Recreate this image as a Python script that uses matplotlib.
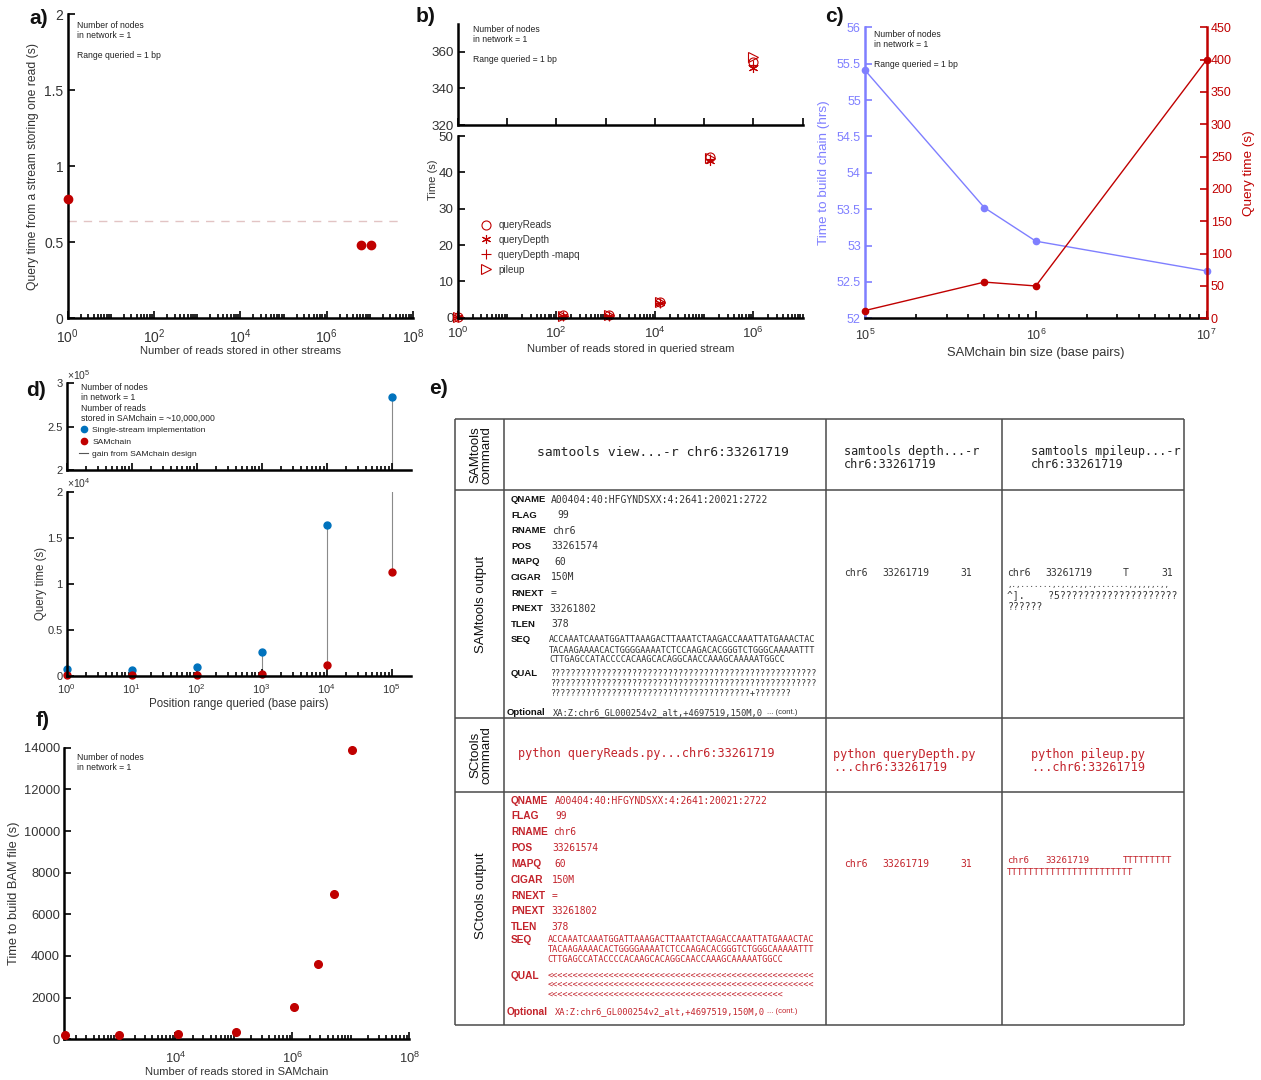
# figure multi-panneaux : requêtes SAMchain / SCtools
import numpy as np
import matplotlib
matplotlib.use('Agg')
import matplotlib.pyplot as plt
from matplotlib.ticker import FixedLocator, NullLocator, FuncFormatter, LogLocator, NullFormatter
from matplotlib.lines import Line2D

plt.rcParams['font.family'] = ['Liberation Sans', 'DejaVu Sans']
plt.rcParams['mathtext.default'] = 'regular'

# ---- données ----
# a) lecture unique, autres streams
a_reads = [1, 6.2e6, 1.05e7]
a_time = [0.78, 0.48, 0.48]
a_ref = 0.64

# b) temps selon le nb de lectures du stream interrogé
b_reads = [1, 140, 1200, 13000, 130000, 1e6]
b_queryReads = [0.3, 0.7, 0.8, 4.3, 44.2, 354.5]
b_queryDepth = [0.2, 0.5, 0.6, 4.1, 43.2, 351.0]
b_queryDepth_mapq = [0.2, 0.5, 0.6, 4.0, 43.6, 352.5]
b_pileup = [0.3, 0.6, 0.7, 4.4, 44.0, 357.0]
b_names = ['queryReads', 'queryDepth', 'queryDepth -mapq', 'pileup']

# c) taille des bins
c_bin = [1e5, 5e5, 1e6, 1e7]
c_build = [55.41, 53.52, 53.06, 52.65]
c_query = [12, 56, 50, 400]

# d) plage de positions
d_range = [1, 10, 100, 1e3, 1e4, 1e5]
d_single = [700, 600, 1000, 2600, 16400, 284000]
d_samchain = [30, 30, 40, 150, 1150, 11300]

# f) construction du fichier BAM
f_reads = [128, 1.1e3, 1.1e4, 1.1e5, 1.05e6, 2.7e6, 5.2e6, 1.05e7]
f_time = [200, 200, 240, 340, 1540, 3610, 6970, 13890]

# e) tableau
row_heads = ['SAMtools\ncommand', 'SAMtools output', 'SCtools\ncommand', 'SCtools output']
sam_cmds = ['samtools view...-r chr6:33261719', 'samtools depth...-r\nchr6:33261719',
            'samtools mpileup...-r\nchr6:33261719']
sc_cmds = ['python queryReads.py...chr6:33261719', 'python queryDepth.py\n...chr6:33261719',
           'python pileup.py\n...chr6:33261719']
fields = ['QNAME', 'FLAG', 'RNAME', 'POS', 'MAPQ', 'CIGAR', 'RNEXT', 'PNEXT', 'TLEN']
values = ['A00404:40:HFGYNDSXX:4:2641:20021:2722', '99', 'chr6', '33261574', '60',
          '150M', '=', '33261802', '378']
seq = ['ACCAAATCAAATGGATTAAAGACTTAAATCTAAGACCAAATTATGAAACTAC',
       'TACAAGAAAACACTGGGGAAAATCTCCAAGACACGGGTCTGGGCAAAAATTT',
       'CTTGAGCCATACCCCACAAGCACAGGCAACCAAAGCAAAAATGGCC']
sam_qual = ['?' * 52, '?' * 52, '?' * 39 + '+' + '?' * 7]
sc_qual = ['<' * 52, '<' * 52, '<' * 46]
optional = 'XA:Z:chr6_GL000254v2_alt,+4697519,150M,0'
depth_out = ['chr6', '33261719', '31']
mpileup_out = ['chr6', '33261719', 'T', '31']
mpileup_more = [',.,.......,.,.,.,,.,.......,,,,,,.,,', '^].    ?5' + '?' * 20, '??????']
pileup_sc = ['chr6', '33261719', 'T' * 9, 'T' * 23]

RED = '#c00000'
BLUE = '#0072bd'
LILAC = '#7f7fff'
GRAY = '#333333'
TRED = '#c3232b'
MONO = 'DejaVu Sans Mono'

W, H = 1261, 1080
fig = plt.figure(figsize=(W / 100, H / 100), dpi=100)


def box(l, t, r, b):
    return [l / W, 1 - b / H, (r - l) / W, (b - t) / H]


# calque en pixels (tableau, lettres, notes)
lay = fig.add_axes([0, 0, 1, 1])
lay.set_xlim(0, W)
lay.set_ylim(H, 0)
lay.axis('off')

fmt_g = FuncFormatter(lambda v, p: '%g' % v)


def style(ax, size=10, xpad=6):
    ax.spines['top'].set_visible(False)
    ax.spines['right'].set_visible(False)
    for s in ax.spines.values():
        s.set_linewidth(1.8)
    ax.tick_params(which='both', direction='in', width=1.2, labelsize=size,
                   labelcolor=GRAY, pad=3)
    ax.tick_params(axis='x', which='both', pad=xpad)
    ax.tick_params(which='major', length=5)
    ax.tick_params(which='minor', length=3)
    ax.patch.set_alpha(0)


def logx(ax, major, lo, hi, subs=np.arange(1, 10)):
    ax.set_xscale('log')
    ax.set_xlim(lo, hi)
    ax.xaxis.set_major_locator(FixedLocator(major))
    ax.xaxis.set_minor_locator(LogLocator(base=10, subs=subs, numticks=100))
    ax.xaxis.set_minor_formatter(NullFormatter())


note = dict(fontsize=6.2, color='#222222', va='top', linespacing=1.15)

# ---------- a) ----------
ax = fig.add_axes(box(67.7, 14, 413, 318))
style(ax, 10, 7)
logx(ax, [1, 1e2, 1e4, 1e6, 1e8], 1, 1e8)
ax.set_ylim(0, 2)
ax.set_yticks([0, 0.5, 1, 1.5, 2])
ax.yaxis.set_major_formatter(fmt_g)
ax.axhline(a_ref, xmax=0.975, color='#e2c4c4', lw=1, dashes=(6, 5))
ax.plot(a_reads, a_time, 'o', color=RED, ms=6, clip_on=False, zorder=3)
ax.set_xlabel('Number of reads stored in other streams', fontsize=8, color=GRAY, labelpad=0)
ax.set_ylabel('Query time from a stream storing one read (s)', fontsize=8.7, color=GRAY, labelpad=4)
lay.text(77.3, 20.5, 'Number of nodes\nin network = 1\n\nRange queried = 1 bp', **note)

# ---------- b) ----------
bt = fig.add_axes(box(457.7, 24, 802.7, 125.3))
bb = fig.add_axes(box(457.7, 136, 802.7, 317.7))
style(bt, 9.6)
style(bb, 9.6, 6)
logx(bt, [10.0 ** k for k in range(8)], 1, 1e7)
bt.xaxis.set_minor_locator(NullLocator())
bt.tick_params(axis='x', labelbottom=False)
logx(bb, [1, 1e2, 1e4, 1e6], 1, 1e7)
bt.set_ylim(320, 375)
bt.set_yticks([320, 340, 360])
bb.set_ylim(0, 50)
bb.set_yticks([0, 10, 20, 30, 40, 50])
for a_ in (bt, bb):
    a_.yaxis.set_major_formatter(fmt_g)
markers = ['o', (6, 2, 0), '+', '>']
series = [b_queryReads, b_queryDepth, b_queryDepth_mapq, b_pileup]
for m, ys, n in zip(markers, series, b_names):
    bt.plot(b_reads, ys, ls='none', marker=m, mfc='none', mec=RED, ms=6.5, mew=0.8)
    bb.plot(b_reads, ys, ls='none', marker=m, mfc='none', mec=RED, ms=6.5, mew=0.8,
            label=n, clip_on=False)
bb.legend(loc='upper left', bbox_to_anchor=(481 / W, 1 - 220 / H), bbox_transform=fig.transFigure,
          frameon=False, fontsize=7.1, handlelength=1.0, handletextpad=0.75, labelspacing=0.5,
          borderpad=0, borderaxespad=0, labelcolor=GRAY)
bb.set_xlabel('Number of reads stored in queried stream', fontsize=8, color=GRAY, labelpad=2)
lay.text(433, 180, 'Time (s)', rotation=90, fontsize=8, color=GRAY, ha='center', va='center')
lay.text(473.3, 24.8, 'Number of nodes\nin network = 1\n\nRange queried = 1 bp', **note)

# ---------- c) ----------
cl = fig.add_axes(box(865, 27.3, 1206.7, 318.3))
style(cl, 9, 7)
cr = cl.twinx()
style(cr, 9)
cr.spines['left'].set_visible(False)
cr.spines['bottom'].set_visible(False)
cr.spines['right'].set_visible(True)
cr.spines['right'].set_color(RED)
cl.spines['left'].set_color(LILAC)
logx(cl, [1e5, 1e6, 1e7], 1e5, 1e7, subs=np.arange(2, 10))
cl.set_ylim(52, 56)
cl.set_yticks(np.arange(52, 56.01, 0.5))
cl.yaxis.set_major_formatter(fmt_g)
cl.tick_params(axis='y', colors=LILAC, labelcolor=LILAC)
cr.set_ylim(0, 450)
cr.set_yticks(np.arange(0, 451, 50))
cr.tick_params(axis='y', colors=RED, labelcolor=RED)
cl.plot(c_bin, c_build, '-o', color=LILAC, lw=1, ms=4.5, clip_on=False)
cr.plot(c_bin, c_query, '-o', color=RED, lw=1, ms=4.5, clip_on=False)
cl.set_xlabel('SAMchain bin size (base pairs)', fontsize=9.3, color=GRAY, labelpad=3)
cl.set_ylabel('Time to build chain (hrs)', fontsize=9.7, color=LILAC, labelpad=5)
cr.set_ylabel('Query time (s)', fontsize=9.7, color=RED, labelpad=8)
lay.text(874, 29.7, 'Number of nodes\nin network = 1\n\nRange queried = 1 bp', **note)

# ---------- d) ----------
dt = fig.add_axes(box(66.7, 383.3, 411, 470.3))
db = fig.add_axes(box(66.7, 491.7, 411, 675.7))
style(dt, 8)
style(db, 8, 5)
for a_ in (dt, db):
    logx(a_, [10.0 ** k for k in range(6)], 1, 10 ** 5.3, subs=np.arange(2, 10))
    a_.vlines(d_range, d_samchain, d_single, color='#8a8a8a', lw=0.8, zorder=1)
dt.tick_params(axis='x', labelbottom=False)
dt.set_ylim(2e5, 3e5)
dt.set_yticks([2e5, 2.5e5, 3e5])
dt.yaxis.set_major_formatter(FuncFormatter(lambda v, p: '%g' % (v / 1e5)))
db.set_ylim(0, 2e4)
db.set_yticks([0, 5e3, 1e4, 1.5e4, 2e4])
db.yaxis.set_major_formatter(FuncFormatter(lambda v, p: '%g' % (v / 1e4)))
dt.plot(d_range, d_single, 'o', color=BLUE, ms=5)
db.plot(d_range, d_single, 'o', color=BLUE, ms=5, clip_on=False)
db.plot(d_range, d_samchain, 'o', color=RED, ms=5, clip_on=False)
lay.text(67, 382, r'$\times10^5$', fontsize=7.5, color=GRAY, va='bottom')
lay.text(67, 490, r'$\times10^4$', fontsize=7.5, color=GRAY, va='bottom')
lay.text(80.7, 382.8, 'Number of nodes\nin network = 1\nNumber of reads\nstored in SAMchain = ~10,000,000',
         fontsize=6.2, color='#222222', va='top', linespacing=1.2)
handles = [Line2D([], [], ls='none', marker='o', color=BLUE, ms=4.5),
           Line2D([], [], ls='none', marker='o', color=RED, ms=4.5),
           Line2D([], [], color='#555555', lw=0.8)]
dt.legend(handles, ['Single-stream implementation', 'SAMchain', 'gain from SAMchain design'],
          loc='upper left', bbox_to_anchor=(79 / W, 1 - 426.5 / H), bbox_transform=fig.transFigure,
          frameon=False, fontsize=6.1, handlelength=1.1, handletextpad=0.45, labelspacing=0.45,
          borderpad=0, borderaxespad=0, labelcolor='#222222')
db.set_xlabel('Position range queried (base pairs)', fontsize=8.3, color=GRAY, labelpad=1)
lay.text(41, 583, 'Query time (s)', rotation=90, fontsize=8.3, color=GRAY, ha='center', va='center')

# ---------- f) ----------
ax = fig.add_axes(box(64.3, 747.7, 409.3, 1039.3))
style(ax, 9.3, 8)
logx(ax, [1e4, 1e6, 1e8], 10 ** 2.1, 1e8)
ax.set_ylim(0, 14000)
ax.set_yticks(np.arange(0, 14001, 2000))
ax.yaxis.set_major_formatter(fmt_g)
ax.plot(f_reads, f_time, 'o', color=RED, ms=5.5, clip_on=False, zorder=3)
ax.set_xlabel('Number of reads stored in SAMchain', fontsize=8, color=GRAY, labelpad=1)
ax.set_ylabel('Time to build BAM file (s)', fontsize=9.3, color=GRAY, labelpad=3)
lay.text(77.3, 753.3, 'Number of nodes\nin network = 1', **note)

# ---------- lettres ----------
for s, x, y in [('a)', 39, 18), ('b)', 426, 17), ('c)', 834, 16), ('d)', 36, 390),
                ('e)', 438, 388), ('f)', 43, 720)]:
    lay.text(x, y, s, fontsize=15, fontweight='bold', ha='center', va='center', color='#111111')

# ---------- e) tableau ----------
col_x = [455, 504, 826, 1001.5, 1184]
row_y = [419, 490, 717.5, 792, 1025]
lay.hlines(row_y, col_x[0], col_x[-1], color='#4a4a4a', lw=1.1)
lay.vlines(col_x, row_y[0], row_y[-1], color='#4a4a4a', lw=1.1)

for s, y in zip(row_heads, [455, 604, 755, 896]):
    lay.text(481, y, s, rotation=90, ha='center', va='center', fontsize=9.5, linespacing=0.9,
             color='#111111')

lay.text(536.7, 452, sam_cmds[0], family=MONO, fontsize=9.4, va='center', color='#222222')
lay.text(844, 458.2, sam_cmds[1], family=MONO, fontsize=8.5, va='center', color='#222222', linespacing=1.0)
lay.text(1031, 458.2, sam_cmds[2], family=MONO, fontsize=8.5, va='center', color='#222222', linespacing=1.0)
lay.text(517.7, 754, sc_cmds[0], family=MONO, fontsize=8.5, va='center', color=TRED)
lay.text(833.3, 761.2, sc_cmds[1], family=MONO, fontsize=8.5, va='center', color=TRED, linespacing=1.0)
lay.text(1031, 761.2, sc_cmds[2], family=MONO, fontsize=8.5, va='center', color=TRED, linespacing=1.0)

sam_y = [500, 515.3, 530.7, 546.3, 561.7, 577.3, 593, 608.7, 624.3]
sam_vx = [551, 557, 551.7, 551, 554, 551, 551, 549, 551]
sc_y = [800.7, 816, 831.7, 848.3, 864, 880, 895.7, 911.3, 927]
sc_vx = [555, 555, 553, 552.7, 554, 551.7, 552, 551, 551]


def record(ys, vxs, seq_y, qual_y, qual, opt_y, lab_c, val_c, lab_fs, val_fs, seq_x, qual_x, opt_vx):
    for f, v, y, vx in zip(fields, values, ys, vxs):
        lay.text(511, y, f, fontweight='bold', fontsize=lab_fs, va='center', color=lab_c)
        lay.text(vx, y, v, family=MONO, fontsize=val_fs, va='center', color=val_c)
    lay.text(511, seq_y[0], 'SEQ', fontweight='bold', fontsize=lab_fs, va='center', color=lab_c)
    for s, y in zip(seq, seq_y):
        lay.text(seq_x, y, s, family=MONO, fontsize=6.1, va='center', color=val_c)
    lay.text(511, qual_y[0], 'QUAL', fontweight='bold', fontsize=lab_fs, va='center', color=lab_c)
    for s, y in zip(qual, qual_y):
        lay.text(qual_x, y, s, family=MONO, fontsize=6.1, va='center', color=val_c)
    lay.text(507, opt_y, 'Optional', fontweight='bold', fontsize=lab_fs, va='center', color=lab_c)
    lay.text(opt_vx, opt_y, optional, family=MONO, fontsize=6.3, va='center', color=val_c)
    lay.text(767, opt_y, '... (cont.)', fontsize=5.5, va='center', color=val_c)


record(sam_y, sam_vx, [640, 650.3, 660], [673.3, 683.3, 693.3], sam_qual, 712.3,
       '#111111', '#333333', 6.8, 7.0, 549, 550, 553)
record(sc_y, sc_vx, [940, 950, 960], [975.7, 985.3, 995], sc_qual, 1011.7,
       TRED, TRED, 7.3, 6.9, 547.7, 548, 555)

# sorties depth / mpileup
for s, x in zip(depth_out, [844, 882.7, 960]):
    lay.text(x, 572.7, s, family=MONO, fontsize=7, va='center', color='#333333')
    lay.text(x, 863.7, s, family=MONO, fontsize=7, va='center', color=TRED)
for s, x in zip(mpileup_out, [1007.3, 1045.7, 1122.7, 1161.7]):
    lay.text(x, 572.7, s, family=MONO, fontsize=7, va='center', color='#333333')
for s, y in zip(mpileup_more, [585.5, 595, 607.3]):
    lay.text(1007.3, y, s, family=MONO, fontsize=7 if y > 590 else 5.4, va='center', color='#333333')
for s, x, y in zip(pileup_sc, [1007.3, 1045.7, 1122.7, 1007.3], [860.7, 860.7, 860.7, 872.7]):
    lay.text(x, y, s, family=MONO, fontsize=6.6, va='center', color=TRED)

fig.savefig('out.png', dpi=100)
